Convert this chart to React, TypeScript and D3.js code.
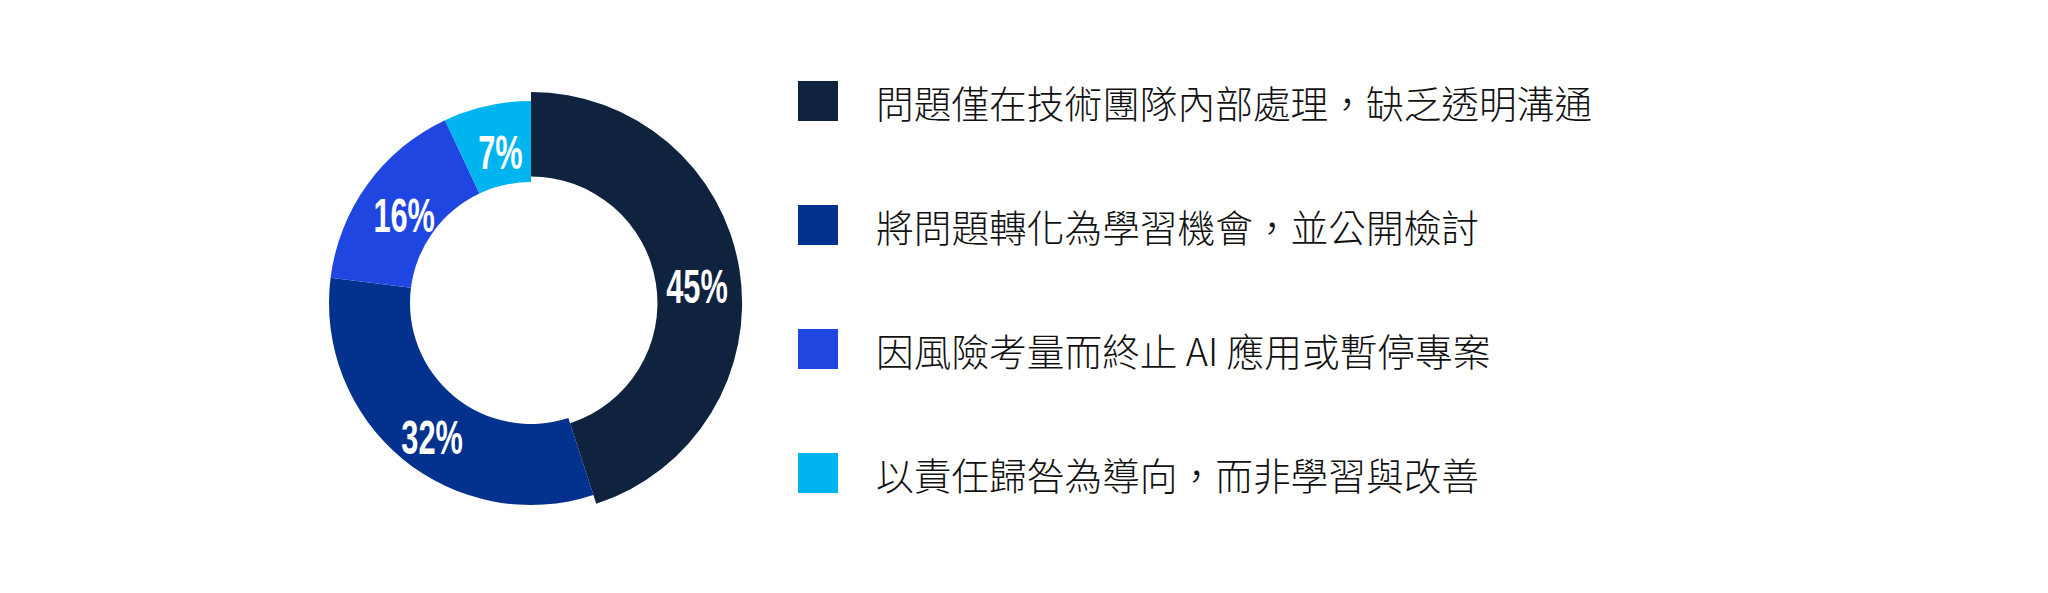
import React, { useEffect, useRef } from 'react';
import * as d3 from 'd3';

// Donut shares (%), in the order they are drawn clockwise from 12 o'clock
const categories = [
  '問題僅在技術團隊內部處理，缺乏透明溝通',
  '將問題轉化為學習機會，並公開檢討',
  '因風險考量而終止 AI 應用或暫停專案',
  '以責任歸咎為導向，而非學習與改善',
];
const shares = [45, 32, 16, 7];
const colors = ['#0f233f', '#03318e', '#1f46e1', '#00b5ef'];

const App: React.FC = () => {
  const svgRef = useRef<SVGSVGElement>(null);

  useEffect(() => {
    if (!svgRef.current) return;
    const svg = d3.select(svgRef.current);
    svg.selectAll('*').remove();

    const width = 2048;
    const height = 593;
    svg.attr('width', width).attr('height', height);

    svg.append('rect').attr('width', width).attr('height', height).attr('fill', '#ffffff');

    const cx = 531;
    const cy = 303;
    const inner = 121;
    const outer = 202;
    const grow = 1.045; // the first slice is drawn slightly larger

    const data = shares.map((v, i) => ({ value: v, label: categories[i], color: colors[i] }));

    const pie = d3.pie<typeof data[number]>()
      .sort(null)
      .value(d => d.value);
    const arcs = pie(data);

    const arc = d3.arc<d3.PieArcDatum<typeof data[number]>>()
      .innerRadius(d => (d.index === 0 ? inner * grow : inner))
      .outerRadius(d => (d.index === 0 ? outer * grow : outer));

    const labelArc = d3.arc<d3.PieArcDatum<typeof data[number]>>()
      .innerRadius(163)
      .outerRadius(163);

    const g = svg.append('g').attr('transform', `translate(${cx},${cy})`);

    g.selectAll('path')
      .data(arcs)
      .join('path')
      .attr('d', arc)
      .attr('fill', d => d.data.color);

    // condensed bold percentage labels
    g.selectAll('text.pct')
      .data(arcs)
      .join('text')
      .attr('class', 'pct')
      .attr('transform', d => {
        const [x, y] = labelArc.centroid(d);
        return `translate(${x + 5},${y + 9}) scale(0.64,1)`;
      })
      .attr('text-anchor', 'middle')
      .attr('dominant-baseline', 'central')
      .attr('font-family', '"Liberation Sans", Arial, sans-serif')
      .attr('font-weight', 700)
      .attr('font-size', 48)
      .attr('fill', '#ffffff')
      .text(d => `${d.data.value}%`);

    // Legend
    const legendY = d3.scalePoint<string>()
      .domain(categories)
      .range([101, 473]);

    const legend = svg.append('g')
      .selectAll('g')
      .data(data)
      .join('g')
      .attr('transform', d => `translate(798,${legendY(d.label)})`);

    legend.append('rect')
      .attr('x', 0)
      .attr('y', -20)
      .attr('width', 40)
      .attr('height', 40)
      .attr('fill', d => d.color);

    legend.append('text')
      .attr('x', 78)
      .attr('y', 0)
      .attr('dominant-baseline', 'central')
      .attr('font-family', '"Noto Sans CJK TC", "Noto Sans CJK SC", sans-serif')
      .attr('font-weight', 300)
      .attr('font-size', 37.7)
      .attr('fill', '#111111')
      .text(d => d.label);
  }, []);

  return (
    <svg
      ref={svgRef}
      style={{ position: 'absolute', left: 0, top: 0, display: 'block' }}
    />
  );
};

export default App;
